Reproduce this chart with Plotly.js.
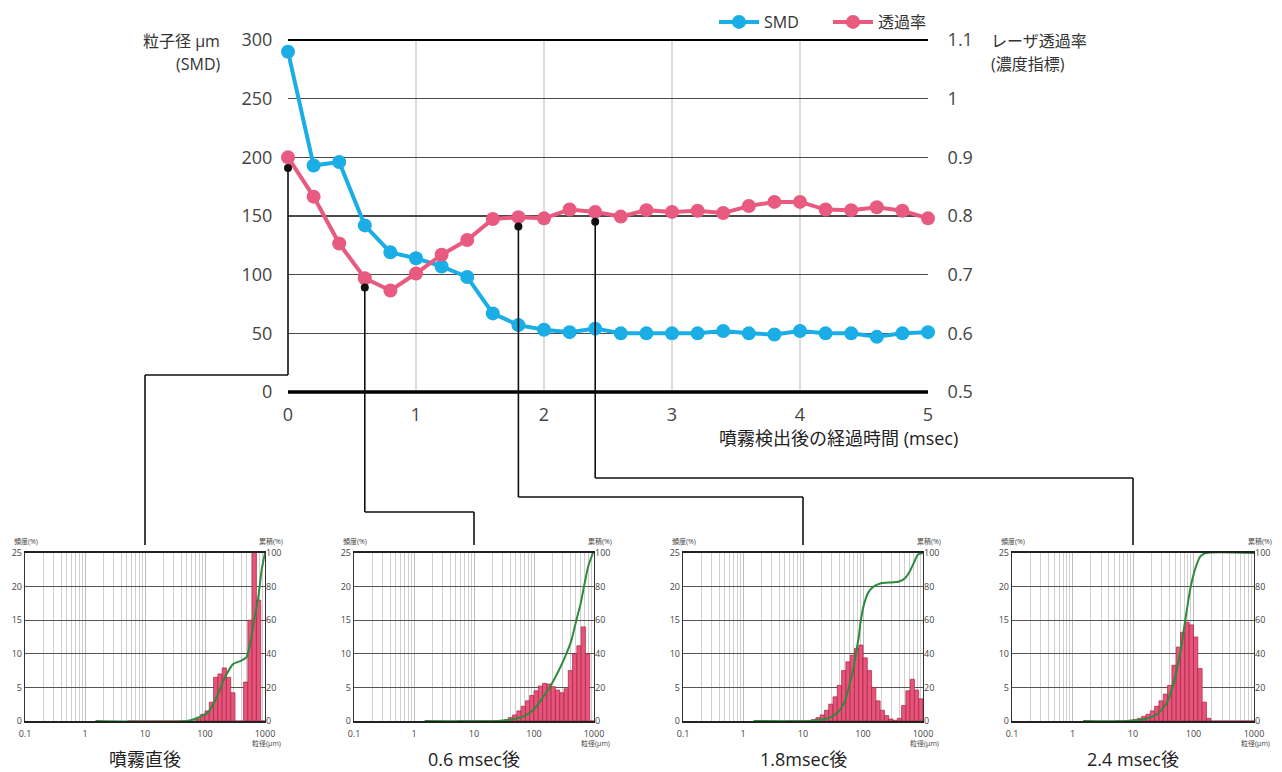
<!DOCTYPE html>
<html>
<head>
<meta charset="utf-8">
<script src="https://cdn.plot.ly/plotly-3.0.1.min.js"></script>
<style>
html,body{margin:0;padding:0;background:#ffffff;}
#chart{width:1282px;height:772px;}
</style>
</head>
<body>
<div id="chart"></div>
<script>
// ---------------- data ----------------
const timeMs = [0,0.2,0.4,0.6,0.8,1.0,1.2,1.4,1.6,1.8,2.0,2.2,2.4,2.6,2.8,3.0,3.2,3.4,3.6,3.8,4.0,4.2,4.4,4.6,4.8,5.0];
const smd = [290,193,196,142,119,114,107,98,67,57,53,51,54,50,50,50,50,52,50,49,52,50,50,47,50,51];
const transmittance = [0.900,0.833,0.753,0.694,0.673,0.702,0.734,0.759,0.795,0.798,0.796,0.811,0.807,0.799,0.810,0.807,0.809,0.805,0.817,0.824,0.824,0.811,0.810,0.815,0.809,0.796];
const timeTicks = [0,1,2,3,4,5];
const gridTimes = [1,2,3,4];
const rightTicks = [0.5,0.6,0.7,0.8,0.9,1.0,1.1];
const rightTickText = ['0.5','0.6','0.7','0.8','0.9','1','1.1'];

// sampling instants highlighted by the black dots (on the transmittance scale)
const sampleTimes = [0, 0.6, 1.8, 2.4];
const sampleMarkLevel = [0.882, 0.678, 0.782, 0.790];
const sampleTitles = ['噴霧直後', '0.6 msec後', '1.8msec後', '2.4 msec後'];

// particle size bins (µm), shared by the four distributions
const binEdges = [5.179,6.105,7.197,8.483,10,11.79,13.89,16.38,19.31,22.76,26.83,31.62,37.28,43.94,51.79,61.05,71.97,84.83,100,117.9,138.9,163.8,193.1,227.6,268.3,316.2,372.8,439.4,517.9,610.5,719.7,848.3,1000];
// frequency (%) per bin
const freq00 = [0,0,0,0,0,0,0,0,0,0,0,0,0,0,0,0,0.3,1.0,1.5,2.8,6.5,7.0,7.9,6.5,4.2,0,0,5.8,15,28,18,0];
const freq06 = [0,0,0,0,0,0,0,0,0,0,0.1,0.2,0.5,0.9,1.5,2.2,3.0,3.8,4.5,5.2,5.6,5.5,5.1,4.6,4.2,4.8,7.5,10.0,11.2,14.0,10.0,0];
const freq18 = [0,0,0,0,0,0,0.2,0.5,0.9,1.6,2.5,3.6,5.3,7.5,8.8,9.8,10.8,11.3,9.4,7.5,5.0,3.0,1.6,0.8,0.3,0.1,0.4,2.3,4.5,6.2,4.6,3.3];
const freq24 = [0,0,0,0.1,0.2,0.4,0.7,1.0,1.5,2.2,3.0,4.0,5.3,8.3,11.0,13.2,14.7,14.3,12.5,7.8,2.8,0.4,0,0,0,0,0,0,0,0,0,0];
// cumulative (%) curves
const cumSize00 = [1.5,50,82,114,156,215,297,406,492,580,660,775,880,1000];
const cumPct00  = [0,0,2.4,5.4,14,26,34,36,38,48,60,74,90,100];
const cumSize06 = [1.5,25,45,70,100,140,182,250,346,420,508,600,681,800,960];
const cumPct06  = [0,0,1,3,7,14,20,29,40,48,60,70,80,92,100];
const cumSize18 = [1.5,12,20,30,40,50,58,70,76,85,92,105,125,150,200,300,400,500,600,700,820,1000];
const cumPct18  = [0,0,0.8,2.5,6,12,20,32,40,50,60,70,77,80,82,82.5,83,85,89,94,99,100];
const cumSize24 = [1.5,8,15,25,35,45,60,73,90,110,130,160,1000];
const cumPct24  = [0,0,1,4,10,20,40,60,80,92,98,100,100];
const sizeTicks = [0.1,1,10,100,1000];
const sizeTickText = ['0.1','1','10','100','1000'];

// ---------------- layout helpers ----------------
const W = 1282, H = 772;
const px = v => v / W;
const py = v => 1 - v / H;
const FONT = '"Open Sans", "Noto Sans CJK JP", sans-serif';
const MAIN = {l: 288, r: 928, t: 40, b: 392};
const X_RANGE = [0, 5], Y_RANGE = [0, 300], Y2_RANGE = [0.5, 1.1];
const HIST_X = [[25,265],[354,594],[683,923],[1012,1254]];
const HIST_T = 553, HIST_B = 721;
const ELBOW_Y = [375, 512, 497, 478];
const LINK_END = 545;

const freqs = [freq00, freq06, freq18, freq24];
const cumSizes = [cumSize00, cumSize06, cumSize18, cumSize24];
const cumPcts = [cumPct00, cumPct06, cumPct18, cumPct24];

const mainXpx = t => MAIN.l + (t - X_RANGE[0]) / (X_RANGE[1] - X_RANGE[0]) * (MAIN.r - MAIN.l);
const mainY2px = v => MAIN.b - (v - Y2_RANGE[0]) / (Y2_RANGE[1] - Y2_RANGE[0]) * (MAIN.b - MAIN.t);

// minor log grid positions
const minorVals = [];
[0.1, 1, 10, 100].forEach(d => { for (let k = 2; k <= 9; k++) minorVals.push(k * d); });

const BLUE = '#1badE6';
const PINK = '#e85a80';

const traces = [
  {x: timeMs, y: smd, xaxis: 'x', yaxis: 'y', type: 'scatter', mode: 'lines+markers', name: 'SMD',
   line: {color: BLUE, width: 4}, marker: {color: BLUE, size: 14}, cliponaxis: false, legend: 'legend'},
  {x: timeMs, y: transmittance, xaxis: 'x', yaxis: 'y2', type: 'scatter', mode: 'lines+markers', name: '透過率',
   line: {color: PINK, width: 4}, marker: {color: PINK, size: 14}, cliponaxis: false, legend: 'legend2'},
  {x: sampleTimes, y: sampleMarkLevel, xaxis: 'x', yaxis: 'y2', type: 'scatter', mode: 'markers',
   marker: {color: '#111', size: 8}, showlegend: false, cliponaxis: false, hoverinfo: 'skip'}
];

const legendBase = {orientation: 'h', y: py(5), xanchor: 'left', yanchor: 'top', itemwidth: 40,
  font: {family: FONT, size: 16, color: '#333'}, bgcolor: 'rgba(0,0,0,0)'};

const layout = {
  width: W, height: H, autosize: false,
  margin: {l: 0, r: 0, t: 0, b: 0, pad: 0},
  paper_bgcolor: '#ffffff', plot_bgcolor: 'rgba(0,0,0,0)',
  font: {family: FONT, color: '#333', size: 16},
  showlegend: true,
  barmode: 'overlay',
  legend: Object.assign({}, legendBase, {x: px(714)}),
  legend2: Object.assign({}, legendBase, {x: px(828)}),
  xaxis: {domain: [px(MAIN.l), px(MAIN.r)], anchor: 'y', range: X_RANGE, tickvals: timeTicks,
          showgrid: false, zeroline: false, showline: false,
          ticks: 'outside', ticklen: 6, tickcolor: 'rgba(0,0,0,0)',
          tickfont: {family: FONT, size: 18, color: '#444'}},
  yaxis: {domain: [py(MAIN.b), py(MAIN.t)], anchor: 'x', range: Y_RANGE, dtick: 50, tick0: 0,
          showgrid: true, gridcolor: '#4a4a4a', gridwidth: 1.2, zeroline: false, showline: false,
          ticks: 'outside', ticklen: 11, tickcolor: 'rgba(0,0,0,0)',
          tickfont: {family: FONT, size: 18, color: '#444'}},
  yaxis2: {overlaying: 'y', anchor: 'x', side: 'right', range: Y2_RANGE, tickvals: rightTicks, ticktext: rightTickText,
           showgrid: false, zeroline: false, showline: false,
           ticks: 'outside', ticklen: 15, tickcolor: 'rgba(0,0,0,0)',
           tickfont: {family: FONT, size: 18, color: '#444'}},
  shapes: [],
  annotations: []
};

// main chart frame lines and vertical grid
gridTimes.forEach(t => layout.shapes.push({type: 'line', xref: 'x', yref: 'paper', x0: t, x1: t,
  y0: py(MAIN.b), y1: py(MAIN.t), line: {color: '#d2d2d2', width: 1.5}, layer: 'below'}));
layout.shapes.push({type: 'line', xref: 'paper', yref: 'paper', x0: px(MAIN.l), x1: px(MAIN.r),
  y0: py(MAIN.t), y1: py(MAIN.t), line: {color: '#000', width: 2.2}});
layout.shapes.push({type: 'line', xref: 'paper', yref: 'paper', x0: px(MAIN.l), x1: px(MAIN.r),
  y0: py(MAIN.b), y1: py(MAIN.b), line: {color: '#000', width: 3.5}});

// axis titles
layout.annotations.push(
  {xref: 'paper', yref: 'paper', x: px(222), y: py(41), xanchor: 'right', yanchor: 'middle', showarrow: false,
   text: '粒子径 µm', font: {family: FONT, size: 16, color: '#333'}},
  {xref: 'paper', yref: 'paper', x: px(222), y: py(64), xanchor: 'right', yanchor: 'middle', showarrow: false,
   text: '(SMD)', font: {family: FONT, size: 16, color: '#333'}},
  {xref: 'paper', yref: 'paper', x: px(989), y: py(41), xanchor: 'left', yanchor: 'middle', showarrow: false,
   text: 'レーザ透過率', font: {family: FONT, size: 16, color: '#333'}},
  {xref: 'paper', yref: 'paper', x: px(989), y: py(64), xanchor: 'left', yanchor: 'middle', showarrow: false,
   text: '(濃度指標)', font: {family: FONT, size: 16, color: '#333'}},
  {xref: 'paper', yref: 'paper', x: px(960), y: py(438), xanchor: 'right', yanchor: 'middle', showarrow: false,
   text: '噴霧検出後の経過時間 (msec)', font: {family: FONT, size: 18, color: '#222'}}
);

// histogram panels
HIST_X.forEach((hx, i) => {
  const xa = 'x' + (i + 2), ya = 'y' + (2 * i + 3), yb = 'y' + (2 * i + 4);
  const L = hx[0], R = hx[1];
  const widths = binEdges.slice(1).map((e, k) => e - binEdges[k]);
  traces.push({type: 'bar', x: binEdges.slice(0, -1), y: freqs[i], width: widths, offset: 0,
    xaxis: xa, yaxis: ya, showlegend: false, hoverinfo: 'skip',
    marker: {color: '#e6547b', line: {color: '#a8243f', width: 0.7}}});
  traces.push({type: 'scatter', mode: 'lines', x: cumSizes[i], y: cumPcts[i], xaxis: xa, yaxis: yb,
    showlegend: false, hoverinfo: 'skip',
    line: {color: '#2e8b3c', width: 2, shape: 'spline', smoothing: 0.6}});

  layout['xaxis' + (i + 2)] = {domain: [px(L), px(R)], anchor: ya, type: 'log', range: [-1, 3],
    tickvals: sizeTicks, ticktext: sizeTickText, tickfont: {family: FONT, size: 9, color: '#444'},
    ticks: 'outside', ticklen: 4, tickcolor: 'rgba(0,0,0,0)',
    showgrid: true, gridcolor: '#bdbdbd', gridwidth: 1,
    minor: {tickvals: minorVals, showgrid: true, gridcolor: '#cfcfcf', gridwidth: 1, ticks: ''},
    showline: true, linecolor: '#222', linewidth: 1.6, mirror: true, zeroline: false};
  layout['yaxis' + (2 * i + 3)] = {domain: [py(HIST_B), py(HIST_T)], anchor: xa, range: [0, 25], dtick: 5, tick0: 0,
    tickfont: {family: FONT, size: 9, color: '#444'}, ticks: '',
    showgrid: true, gridcolor: '#555', gridwidth: 1,
    showline: true, linecolor: '#333', linewidth: 1.2, mirror: true, zeroline: false};
  layout['yaxis' + (2 * i + 4)] = {overlaying: ya, anchor: xa, side: 'right', range: [0, 100], dtick: 20, tick0: 0,
    tickfont: {family: FONT, size: 9, color: '#444'}, ticks: '', showgrid: false, zeroline: false, showline: false};

  // panel labels
  layout.annotations.push(
    {xref: 'paper', yref: 'paper', x: px(L - 13), y: py(541), xanchor: 'left', yanchor: 'middle', showarrow: false,
     text: '頻度(%)', font: {family: FONT, size: 7, color: '#444'}},
    {xref: 'paper', yref: 'paper', x: px(R - 8), y: py(541), xanchor: 'left', yanchor: 'middle', showarrow: false,
     text: '累積(%)', font: {family: FONT, size: 7, color: '#444'}},
    {xref: 'paper', yref: 'paper', x: px(R - 15), y: py(743), xanchor: 'left', yanchor: 'middle', showarrow: false,
     text: '粒径(µm)', font: {family: FONT, size: 7, color: '#444'}},
    {xref: 'paper', yref: 'paper', x: px((L + R) / 2), y: py(759), xanchor: 'center', yanchor: 'middle', showarrow: false,
     text: sampleTitles[i], font: {family: FONT, size: 18, color: '#222'}}
  );

  // connector from the sampled point to this panel
  const sx = mainXpx(sampleTimes[i]);
  const sy = mainY2px(sampleMarkLevel[i]);
  const cx = (L + R) / 2;
  const ln = {color: '#111', width: 1.6};
  layout.shapes.push(
    {type: 'line', xref: 'paper', yref: 'paper', x0: px(sx), x1: px(sx), y0: py(sy), y1: py(ELBOW_Y[i]), line: ln},
    {type: 'line', xref: 'paper', yref: 'paper', x0: px(sx), x1: px(cx), y0: py(ELBOW_Y[i]), y1: py(ELBOW_Y[i]), line: ln},
    {type: 'line', xref: 'paper', yref: 'paper', x0: px(cx), x1: px(cx), y0: py(ELBOW_Y[i]), y1: py(LINK_END), line: ln}
  );
});

Plotly.newPlot('chart', traces, layout, {displayModeBar: false, staticPlot: true});
</script>
</body>
</html>
